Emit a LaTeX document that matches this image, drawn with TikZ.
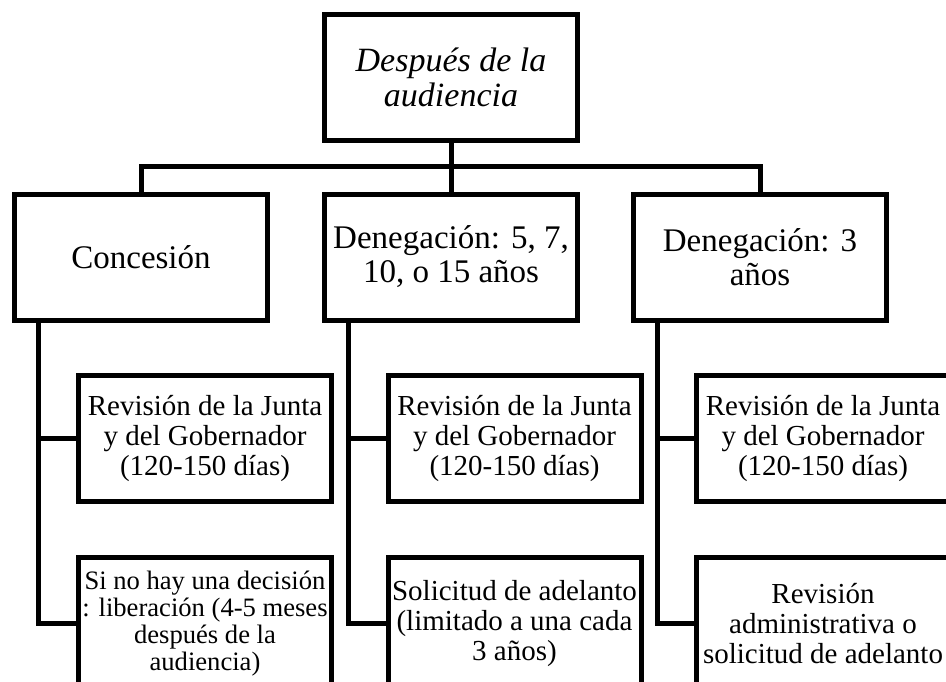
\documentclass[tikz,border=0pt]{standalone}
\usepackage{fontspec}
\setmainfont{Liberation Serif}
\usetikzlibrary{calc}
\tikzset{>=latex}

\begin{document}
\begin{tikzpicture}[x=1pt,y=-1pt,
    box/.style={draw,line width=5pt,fill=white,align=center,inner sep=0pt,minimum width=253pt,minimum height=126pt},
    topbox/.style={box,font=\fontsize{34}{35}\selectfont\itshape},
    lvlone/.style={box,font=\fontsize{33}{34}\selectfont},
    lvltwo/.style={box,font=\fontsize{29}{30}\selectfont},
    lvllow/.style={lvltwo,minimum height=132pt},
    link/.style={line width=5pt}]
    \useasboundingbox (0,0) rectangle (946,681);
    \clip (0,0) rectangle (946,681);
    \fill[white] (0,0) rectangle (946,681);
    \node[topbox] (top) at (451,77.5) {Después de la\\audiencia};
    \node[lvlone] (con) at (141,257) {Concesión};
    \node[lvlone] (den) at (451,257) {Denegación: 5, 7,\\10, o 15 años};
    \node[lvlone] (dtres) at (760,257) {Denegación: 3\\años};
    \node[lvltwo] (revA) at (205,438.5) {Revisión de la Junta\\y del Gobernador\\(120-150 días)};
    \node[lvltwo] (revB) at (514.5,438.5) {Revisión de la Junta\\y del Gobernador\\(120-150 días)};
    \node[lvltwo] (revC) at (823,438.5) {Revisión de la Junta\\y del Gobernador\\(120-150 días)};
    \node[lvllow,font=\fontsize{26.6}{27}\selectfont] (libA) at (205,623.5) {Si no hay una decisión\\: liberación (4-5 meses\\después de la\\audiencia)};
    \node[lvllow] (solB) at (514.5,623.5) {Solicitud de adelanto\\(limitado a una cada\\3 años)};
    \node[lvllow] (admC) at (823,623.5) {Revisión\\administrativa o\\solicitud de adelanto};
    \coordinate (bus) at (451,166);
    \draw[link] (top) -- (bus);
    \draw[link] (con.north) |- (bus) -| (dtres.north);
    \draw[link] (den) -- (bus);
    \foreach \c/\r/\s in {con/revA/libA, den/revB/solB, dtres/revC/admC} {
      \draw[link] ([xshift=26pt]\c.south west) |- (\r.west);
      \draw[link] ([xshift=26pt]\c.south west) |- (\s.west);
    }
\end{tikzpicture}
\end{document}
